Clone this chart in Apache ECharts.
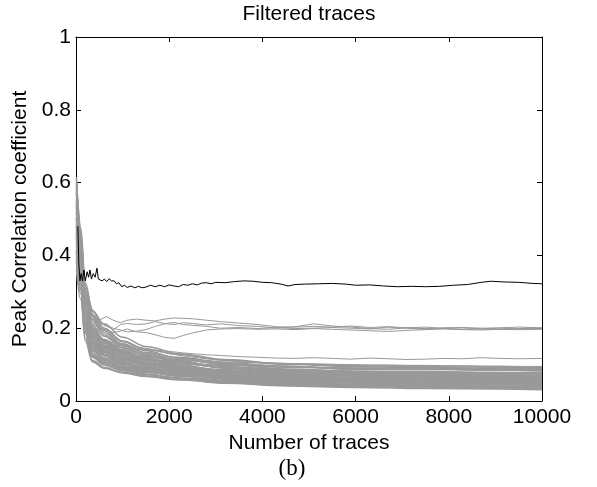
<!DOCTYPE html>
<html>
<head>
<meta charset="utf-8">
<title>Filtered traces</title>
<script src="https://cdn.jsdelivr.net/npm/echarts@6/dist/echarts.min.js"></script>
<style>
  html, body { margin: 0; padding: 0; background: #fff; }
  #main { width: 597px; height: 487px; }
</style>
</head>
<body>
<div id="main"></div>
<script>
var bandX = [10, 100, 200, 350, 600, 1000, 1500, 2200, 3200, 4500, 6000, 7500, 9000, 10000];

// bulk of the gray traces (one row per trace, values at bandX)
var bandTraces = [
    [0.615, 0.476, 0.325, 0.248, 0.200, 0.165, 0.142, 0.128, 0.112, 0.101, 0.094, 0.092, 0.090, 0.089],
    [0.594, 0.460, 0.314, 0.248, 0.212, 0.175, 0.150, 0.130, 0.114, 0.102, 0.097, 0.094, 0.093, 0.092],
    [0.581, 0.450, 0.305, 0.233, 0.188, 0.155, 0.133, 0.120, 0.105, 0.096, 0.087, 0.088, 0.085, 0.083],
    [0.555, 0.430, 0.295, 0.237, 0.200, 0.163, 0.138, 0.117, 0.100, 0.088, 0.082, 0.078, 0.078, 0.077],
    [0.542, 0.420, 0.280, 0.208, 0.169, 0.141, 0.125, 0.114, 0.102, 0.095, 0.088, 0.088, 0.085, 0.086],
    [0.529, 0.410, 0.284, 0.217, 0.182, 0.151, 0.127, 0.108, 0.091, 0.079, 0.073, 0.072, 0.069, 0.069],
    [0.516, 0.400, 0.264, 0.193, 0.157, 0.131, 0.115, 0.104, 0.092, 0.085, 0.079, 0.075, 0.076, 0.074],
    [0.503, 0.390, 0.260, 0.196, 0.166, 0.136, 0.115, 0.099, 0.083, 0.073, 0.065, 0.065, 0.064, 0.062],
    [0.490, 0.380, 0.245, 0.176, 0.145, 0.121, 0.107, 0.096, 0.086, 0.079, 0.074, 0.071, 0.070, 0.068],
    [0.477, 0.370, 0.248, 0.182, 0.153, 0.126, 0.107, 0.091, 0.076, 0.066, 0.060, 0.060, 0.056, 0.057],
    [0.464, 0.360, 0.228, 0.161, 0.133, 0.111, 0.099, 0.089, 0.079, 0.073, 0.068, 0.065, 0.065, 0.063],
    [0.451, 0.350, 0.231, 0.167, 0.141, 0.116, 0.099, 0.084, 0.069, 0.060, 0.054, 0.054, 0.050, 0.049],
    [0.438, 0.340, 0.215, 0.149, 0.124, 0.104, 0.092, 0.082, 0.072, 0.066, 0.062, 0.058, 0.058, 0.055],
    [0.425, 0.330, 0.205, 0.140, 0.114, 0.097, 0.085, 0.074, 0.061, 0.054, 0.049, 0.046, 0.045, 0.043],
    [0.412, 0.320, 0.195, 0.132, 0.108, 0.092, 0.080, 0.073, 0.063, 0.057, 0.052, 0.049, 0.048, 0.046],
    [0.399, 0.310, 0.185, 0.123, 0.102, 0.085, 0.074, 0.064, 0.055, 0.047, 0.041, 0.040, 0.037, 0.037],
    [0.381, 0.296, 0.173, 0.112, 0.092, 0.079, 0.069, 0.060, 0.049, 0.041, 0.037, 0.034, 0.033, 0.031],
    [0.360, 0.280, 0.165, 0.108, 0.090, 0.077, 0.067, 0.058, 0.050, 0.044, 0.039, 0.037, 0.035, 0.034],
    [0.599, 0.464, 0.302, 0.223, 0.178, 0.146, 0.123, 0.107, 0.092, 0.082, 0.076, 0.074, 0.072, 0.071],
    [0.568, 0.440, 0.288, 0.202, 0.163, 0.134, 0.113, 0.095, 0.080, 0.069, 0.063, 0.062, 0.059, 0.059],
    [0.505, 0.385, 0.239, 0.164, 0.129, 0.106, 0.089, 0.074, 0.060, 0.050, 0.045, 0.043, 0.041, 0.040],
    [0.445, 0.345, 0.235, 0.174, 0.151, 0.131, 0.117, 0.106, 0.095, 0.086, 0.082, 0.082, 0.078, 0.079],
    [0.391, 0.305, 0.190, 0.137, 0.119, 0.102, 0.090, 0.080, 0.070, 0.063, 0.058, 0.055, 0.054, 0.052],
    [0.535, 0.415, 0.270, 0.184, 0.147, 0.118, 0.100, 0.086, 0.071, 0.061, 0.055, 0.052, 0.051, 0.050],
    [0.455, 0.335, 0.200, 0.120, 0.098, 0.083, 0.072, 0.062, 0.052, 0.045, 0.040, 0.038, 0.035, 0.035],
    [0.485, 0.395, 0.275, 0.226, 0.194, 0.157, 0.132, 0.111, 0.090, 0.077, 0.070, 0.068, 0.066, 0.065],
    [0.548, 0.425, 0.268, 0.180, 0.144, 0.124, 0.112, 0.104, 0.098, 0.093, 0.091, 0.090, 0.088, 0.088],
    [0.407, 0.315, 0.188, 0.127, 0.106, 0.090, 0.082, 0.076, 0.068, 0.064, 0.063, 0.061, 0.060, 0.060],
    [0.470, 0.365, 0.218, 0.146, 0.116, 0.095, 0.079, 0.068, 0.056, 0.050, 0.043, 0.042, 0.039, 0.038],
    [0.585, 0.452, 0.278, 0.190, 0.150, 0.114, 0.097, 0.087, 0.074, 0.065, 0.059, 0.057, 0.055, 0.056],
    [0.607, 0.458, 0.297, 0.211, 0.161, 0.129, 0.111, 0.102, 0.093, 0.084, 0.078, 0.077, 0.075, 0.074],
    [0.520, 0.405, 0.250, 0.171, 0.138, 0.119, 0.104, 0.094, 0.082, 0.074, 0.071, 0.069, 0.067, 0.066],
    [0.430, 0.352, 0.241, 0.189, 0.165, 0.138, 0.118, 0.098, 0.081, 0.070, 0.063, 0.060, 0.057, 0.054],
    [0.538, 0.388, 0.223, 0.152, 0.126, 0.105, 0.094, 0.081, 0.067, 0.056, 0.050, 0.048, 0.046, 0.044],
    [0.386, 0.308, 0.208, 0.155, 0.135, 0.117, 0.102, 0.092, 0.083, 0.076, 0.072, 0.071, 0.071, 0.068],
    [0.480, 0.358, 0.212, 0.142, 0.112, 0.094, 0.083, 0.075, 0.064, 0.058, 0.055, 0.053, 0.051, 0.050],
    [0.573, 0.434, 0.266, 0.177, 0.135, 0.109, 0.091, 0.076, 0.062, 0.052, 0.046, 0.044, 0.041, 0.041],
    [0.415, 0.325, 0.213, 0.158, 0.146, 0.132, 0.120, 0.113, 0.103, 0.094, 0.089, 0.087, 0.085, 0.084],
    [0.498, 0.376, 0.229, 0.160, 0.125, 0.101, 0.086, 0.070, 0.057, 0.048, 0.044, 0.040, 0.036, 0.036],
    [0.460, 0.343, 0.193, 0.125, 0.104, 0.088, 0.078, 0.072, 0.067, 0.064, 0.063, 0.064, 0.061, 0.061]
];

// x positions for the gray traces that leave the bulk
var outlierX = [10, 100, 200, 350, 500, 650, 800, 950, 1100, 1300, 1500, 1700, 1900, 2100, 2300, 2500, 2800, 3100, 3500, 3900,
    4300, 4700, 5100, 5500, 5900, 6300, 6700, 7100, 7500, 7900, 8300, 8700, 9100, 9500, 10000];

// the four traces that settle near 0.2
var highTraces = [
    [0.60, 0.46, 0.31, 0.25, 0.222, 0.232, 0.222, 0.215, 0.222, 0.225, 0.222, 0.220, 0.225, 0.228, 0.227, 0.226, 0.222, 0.218, 0.214, 0.210,
        0.204, 0.203, 0.205, 0.203, 0.206, 0.202, 0.204, 0.201, 0.199, 0.201, 0.202, 0.200, 0.201, 0.203, 0.201],
    [0.57, 0.44, 0.30, 0.24, 0.218, 0.208, 0.195, 0.210, 0.213, 0.210, 0.212, 0.218, 0.213, 0.210, 0.215, 0.213, 0.209, 0.212, 0.207, 0.205,
        0.200, 0.204, 0.212, 0.206, 0.203, 0.199, 0.197, 0.201, 0.203, 0.199, 0.197, 0.198, 0.200, 0.198, 0.199],
    [0.55, 0.43, 0.29, 0.235, 0.200, 0.195, 0.188, 0.192, 0.198, 0.190, 0.188, 0.182, 0.175, 0.172, 0.180, 0.187, 0.195, 0.198, 0.199, 0.197,
        0.198, 0.196, 0.199, 0.197, 0.195, 0.193, 0.191, 0.194, 0.196, 0.198, 0.196, 0.195, 0.197, 0.196, 0.197],
    [0.58, 0.45, 0.305, 0.24, 0.215, 0.205, 0.200, 0.195, 0.190, 0.192, 0.196, 0.205, 0.212, 0.216, 0.210, 0.208, 0.205, 0.200, 0.202, 0.199,
        0.202, 0.199, 0.200, 0.202, 0.200, 0.198, 0.203, 0.200, 0.197, 0.200, 0.201, 0.198, 0.196, 0.199, 0.200]
];

// traces sitting just above the bulk
var midTraces = [
    [0.52, 0.40, 0.27, 0.20, 0.175, 0.165, 0.160, 0.155, 0.150, 0.148, 0.145, 0.140, 0.138, 0.135, 0.132, 0.130, 0.127, 0.125, 0.122, 0.120,
        0.118, 0.117, 0.119, 0.117, 0.115, 0.118, 0.116, 0.114, 0.115, 0.117, 0.116, 0.119, 0.117, 0.116, 0.117],
    [0.50, 0.39, 0.26, 0.19, 0.165, 0.158, 0.152, 0.148, 0.140, 0.135, 0.128, 0.125, 0.122, 0.120, 0.117, 0.114, 0.112, 0.108, 0.106, 0.105,
        0.104, 0.102, 0.101, 0.100, 0.099, 0.098, 0.098, 0.097, 0.097, 0.096, 0.096, 0.095, 0.095, 0.094, 0.094],
    [0.53, 0.41, 0.28, 0.205, 0.170, 0.160, 0.155, 0.148, 0.145, 0.142, 0.140, 0.138, 0.133, 0.128, 0.124, 0.120, 0.116, 0.112, 0.108, 0.106,
        0.104, 0.103, 0.102, 0.101, 0.100, 0.099, 0.099, 0.098, 0.098, 0.097, 0.097, 0.096, 0.096, 0.095, 0.095]
];

// the black trace (correct key)
var blackX = [40, 60, 85, 110, 140, 170, 200, 240, 270, 300, 330, 370, 410, 450, 480, 520, 560, 610, 660, 710,
    760, 820, 870, 920, 980, 1040, 1100, 1180, 1260, 1340, 1420, 1500, 1600, 1700, 1800, 1900, 2000, 2100, 2200, 2300,
    2400, 2500, 2600, 2700, 2800, 2900, 3000, 3200, 3400, 3600, 3800, 4000, 4200, 4400, 4550, 4700, 4900, 5200, 5500, 5800,
    6000, 6300, 6600, 6900, 7200, 7500, 7800, 8100, 8400, 8700, 8900, 9200, 9500, 9800, 10000];
var blackY = [0.48, 0.38, 0.33, 0.35, 0.33, 0.36, 0.33, 0.355, 0.34, 0.36, 0.335, 0.35, 0.34, 0.365, 0.335, 0.34, 0.33, 0.335, 0.328, 0.336,
    0.33, 0.33, 0.322, 0.325, 0.314, 0.318, 0.312, 0.316, 0.311, 0.315, 0.311, 0.313, 0.318, 0.314, 0.318, 0.314, 0.319, 0.316, 0.314, 0.32,
    0.318, 0.322, 0.319, 0.324, 0.325, 0.322, 0.326, 0.325, 0.328, 0.33, 0.329, 0.326, 0.325, 0.321, 0.316, 0.32, 0.321, 0.322, 0.323, 0.321,
    0.318, 0.319, 0.316, 0.314, 0.315, 0.314, 0.315, 0.318, 0.32, 0.326, 0.329, 0.327, 0.326, 0.323, 0.322];

var FONT = '"Liberation Sans", Arial, Helvetica, sans-serif';
var FS = 21;

function pairs(xs, ys) {
    var out = [];
    for (var i = 0; i < xs.length; i++) {
        out.push([xs[i], ys[i]]);
    }
    return out;
}

function lineSeries(data, color, width, smooth) {
    return {
        type: 'line',
        data: data,
        showSymbol: false,
        symbol: 'none',
        silent: true,
        smooth: smooth || false,
        smoothMonotone: 'x',
        lineStyle: { color: color, width: width },
        xAxisIndex: 0,
        yAxisIndex: 0
    };
}

var series = [];
bandTraces.forEach(function(t) { series.push(lineSeries(pairs(bandX, t), '#999999', 1.5, 0.4)); });
midTraces.forEach(function(t) { series.push(lineSeries(pairs(outlierX, t), '#999999', 1)); });
highTraces.forEach(function(t) { series.push(lineSeries(pairs(outlierX, t), '#999999', 1)); });
series.push(lineSeries(pairs(blackX, blackY), '#000000', 1));

var axisBase = {
    type: 'value',
    axisLine: { show: true, onZero: false, lineStyle: { color: '#000', width: 1 } },
    axisTick: { show: true, inside: true, length: 5, lineStyle: { color: '#000', width: 1 } },
    splitLine: { show: false },
    axisLabel: { color: '#000', fontSize: FS, fontFamily: FONT, formatter: function(v) { return String(v); } }
};

function axis(extra) {
    return echarts.util.merge(echarts.util.clone(axisBase), extra, true);
}

var option = {
    animation: false,
    backgroundColor: '#fff',
    grid: { left: 76, right: 55, top: 37, bottom: 86, containLabel: false },
    xAxis: [
        axis({
            position: 'bottom', min: 0, max: 10000, interval: 2000,
            axisLabel: { margin: 6 },
            name: 'Number of traces', nameLocation: 'middle', nameGap: 22,
            nameTextStyle: { color: '#000', fontSize: FS, fontFamily: FONT }
        }),
        axis({ position: 'top', min: 0, max: 10000, interval: 2000, axisLabel: { show: false } })
    ],
    yAxis: [
        axis({
            position: 'left', min: 0, max: 1, interval: 0.2,
            axisLabel: { margin: 5 },
            name: 'Peak Correlation coefficient', nameLocation: 'middle', nameGap: 34,
            nameTextStyle: { color: '#000', fontSize: FS, fontFamily: FONT }
        }),
        axis({ position: 'right', min: 0, max: 1, interval: 0.2, axisLabel: { show: false } })
    ],
    graphic: [
        {
            type: 'text', x: 309, y: 14, silent: true,
            style: { text: 'Filtered traces', fill: '#000', font: FS + 'px ' + FONT, textAlign: 'center', textVerticalAlign: 'middle' }
        },
        {
            type: 'text', x: 292, y: 469, silent: true,
            style: { text: '(b)', fill: '#000', font: '23px "Liberation Serif", "DejaVu Serif", serif', textAlign: 'center', textVerticalAlign: 'middle' }
        }
    ],
    series: series
};

var chart = echarts.init(document.getElementById('main'), null, { renderer: 'canvas' });
chart.setOption(option);
</script>
</body>
</html>
